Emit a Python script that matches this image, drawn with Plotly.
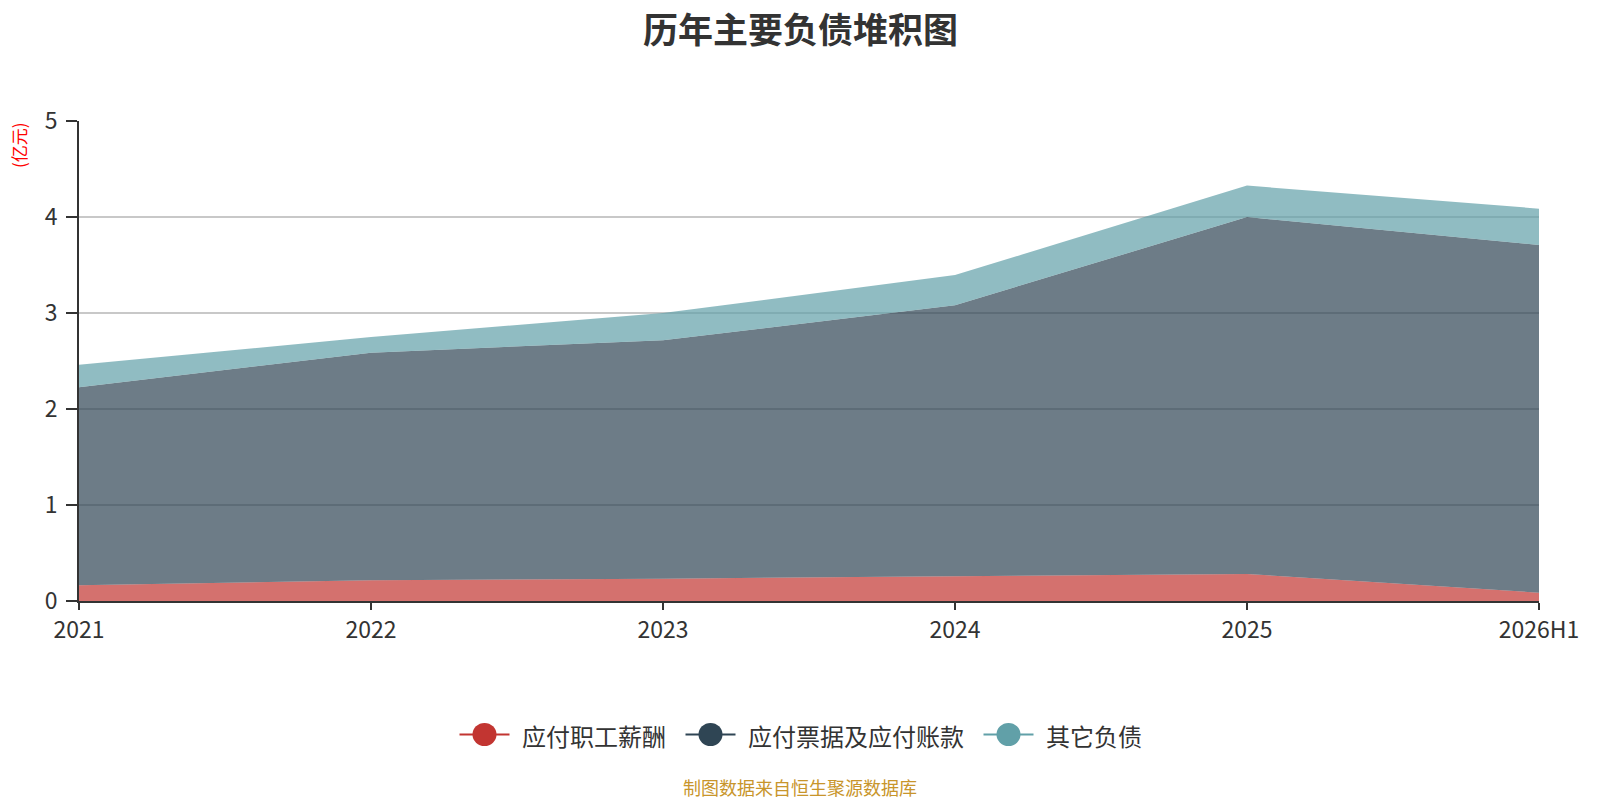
import plotly.graph_objects as go

categories = ["2021", "2022", "2023", "2024", "2025", "2026H1"]
salary = [0.165, 0.215, 0.233, 0.257, 0.281, 0.087]
payables = [2.061, 2.372, 2.483, 2.823, 3.719, 3.621]
other = [0.234, 0.163, 0.284, 0.315, 0.327, 0.379]
series_names = ["应付职工薪酬", "应付票据及应付账款", "其它负债"]
y_ticks = [0, 1, 2, 3, 4, 5]

colors = ["#c23531", "#2f4554", "#61a0a8"]
fills = ["rgba(194,53,49,0.7)", "rgba(47,69,84,0.7)", "rgba(97,160,168,0.7)"]
font_family = "Noto Sans CJK SC, Noto Sans, sans-serif"

W, H = 1600, 800
L, R, T, B = 79, 61, 121, 199
plot_w = W - L - R
plot_h = H - T - B


def px(xp):
    return (xp - L) / plot_w


def py(yp):
    return (H - B - yp) / plot_h


fig = go.Figure()
for name, vals, c, f in zip(series_names, [salary, payables, other], colors, fills):
    fig.add_trace(go.Scatter(
        x=categories, y=vals, name=name, stackgroup="one", mode="lines",
        line=dict(width=0, color=c), fillcolor=f, showlegend=False,
        hoverinfo="x+y+name",
    ))

# custom legend (line + large circle + label), centred under the plot
leg_font = 24
leg_y = 734.5
line_len = 50
text_off = 61
item_gap = 21
widths = [len(n) * leg_font for n in series_names]
total = sum(text_off + w for w in widths) + item_gap * (len(series_names) - 1)
x_cur = W / 2 - total / 2
shapes = []
annotations = []
for name, c, w in zip(series_names, colors, widths):
    cx = x_cur + line_len / 2
    shapes.append(dict(type="line", xref="paper", yref="paper",
                       x0=px(x_cur), x1=px(x_cur + line_len), y0=py(leg_y), y1=py(leg_y),
                       line=dict(color=c, width=2)))
    shapes.append(dict(type="circle", xref="paper", yref="paper",
                       x0=px(cx - 12), x1=px(cx + 12), y0=py(leg_y - 11.5), y1=py(leg_y + 11.5),
                       fillcolor=c, line=dict(color=c, width=0)))
    annotations.append(dict(text=name, xref="paper", yref="paper",
                            x=px(x_cur + text_off - 1), y=py(leg_y + 1), xanchor="left", yanchor="middle",
                            showarrow=False, font=dict(size=leg_font, color="#333333", family=font_family)))
    x_cur += text_off + w + item_gap

annotations.append(dict(text="(亿元)", xref="paper", yref="paper", x=px(18), y=py(145),
                        xanchor="center", yanchor="middle", showarrow=False, textangle=-90,
                        font=dict(size=17, color="#ff0000", family=font_family)))
annotations.append(dict(text="制图数据来自恒生聚源数据库", xref="paper", yref="paper",
                        x=px(W / 2), y=py(787), xanchor="center", yanchor="middle", showarrow=False,
                        font=dict(size=18, color="#c8952b", family=font_family)))
annotations.append(dict(text="<b>历年主要负债堆积图</b>", xref="paper", yref="paper",
                        x=px(W / 2), y=py(28), xanchor="center", yanchor="middle", showarrow=False,
                        font=dict(size=35, color="#333333", family=font_family)))

fig.update_layout(
    width=W, height=H,
    paper_bgcolor="white", plot_bgcolor="white",
    margin=dict(l=L, r=R, t=T, b=B, autoexpand=False),
    font=dict(family=font_family, color="#333333"),
    xaxis=dict(type="category", range=[0, 5], showgrid=False, automargin=False,
               showline=True, linecolor="#333333", linewidth=2,
               ticks="outside", ticklen=7, tickcolor="#333333", tickwidth=2,
               tickfont=dict(size=23, color="#333333"), zeroline=False),
    yaxis=dict(range=[0, 5], tickvals=y_ticks, showgrid=True, gridcolor="#c8c8c8",
               gridwidth=1.5, showline=True, linecolor="#333333", linewidth=2,
               automargin=False, ticklabelstandoff=4,
               ticks="outside", ticklen=11, tickcolor="#333333", tickwidth=2,
               tickfont=dict(size=23, color="#333333"), zeroline=False),
    showlegend=False,
    shapes=shapes,
    annotations=annotations,
)

fig.write_html("out.html", config={"displayModeBar": False},
               post_script="document.body.style.margin='0px';document.body.style.overflow='hidden';")
